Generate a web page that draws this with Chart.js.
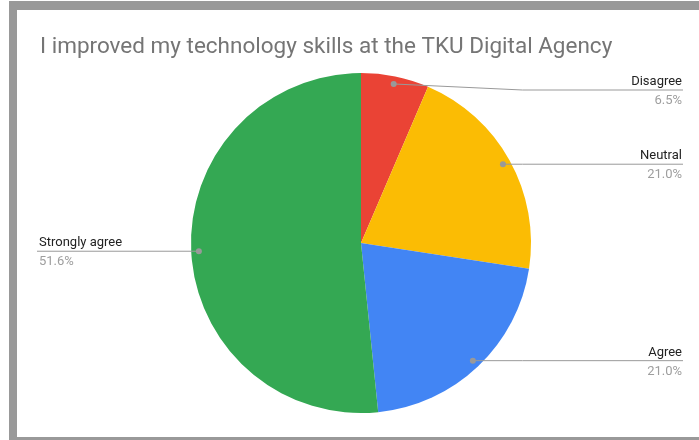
<!DOCTYPE html>
<html>
<head>
<meta charset="utf-8">
<style>
  html, body { margin: 0; padding: 0; background: #fff; }
  #frame {
    position: absolute; left: 9px; top: 1px; width: 690px; height: 427px;
    border-top: 9px solid #999; border-left: 8px solid #999; border-bottom: 3px solid #999;
    box-sizing: content-box;
  }
  #wrap { position: absolute; left: 0; top: 0; width: 699px; height: 440px; }
</style>
</head>
<body>
<div id="frame"></div>
<div id="wrap"><canvas id="myChart" width="699" height="440"></canvas></div>
<script src="https://cdn.jsdelivr.net/npm/chart.js@4.4.0/dist/chart.umd.min.js"></script>
<script>
  var title = 'I improved my technology skills at the TKU Digital Agency';
  var categories = ['Disagree', 'Neutral', 'Agree', 'Strongly agree'];
  var responses = [4, 13, 13, 32];
  var colors = ['#EA4335', '#FBBC04', '#4285F4', '#34A853'];

  // leader lines with name + percentage, Sheets style
  var calloutPlugin = {
    id: 'callouts',
    afterDatasetsDraw: function(chart) {
      var ctx = chart.ctx;
      var area = chart.chartArea;
      var meta = chart.getDatasetMeta(0);
      var total = responses.reduce(function(a, b) { return a + b; }, 0);

      ctx.save();
      ctx.fillStyle = '#757575';
      ctx.font = '22.5px Roboto';
      ctx.textAlign = 'left';
      ctx.textBaseline = 'alphabetic';
      ctx.fillText(title, 40, 53);

      meta.data.forEach(function(arc, i) {
        var p = arc.getProps(['x', 'y', 'startAngle', 'endAngle', 'outerRadius'], true);
        var mid = (p.startAngle + p.endAngle) / 2;
        var r = p.outerRadius * 0.955;
        var dx = p.x + Math.cos(mid) * r;
        var dy = p.y + Math.sin(mid) * r;
        var right = Math.cos(mid) >= 0;
        var ly = Math.max(dy, area.top + 17);
        var endX = right ? 683 : 37;
        var elbowX = right ? Math.max(dx, p.x + p.outerRadius * 0.95) : dx;

        ctx.strokeStyle = '#999';
        ctx.lineWidth = 1;
        ctx.beginPath();
        ctx.moveTo(dx, dy);
        ctx.lineTo(elbowX, ly);
        ctx.lineTo(endX, ly);
        ctx.stroke();

        ctx.fillStyle = '#999';
        ctx.beginPath();
        ctx.arc(dx, dy, 3, 0, Math.PI * 2);
        ctx.fill();

        var pct = (responses[i] / total * 100).toFixed(1) + '%';
        var tx = right ? 682 : 39;
        ctx.textAlign = right ? 'right' : 'left';
        ctx.font = '13px Roboto';
        ctx.fillStyle = '#222';
        ctx.fillText(categories[i], tx, ly - 5);
        ctx.fillStyle = '#9e9e9e';
        ctx.fillText(pct, tx, ly + 14);
      });
      ctx.restore();
    }
  };

  var ctx = document.getElementById('myChart').getContext('2d');
  new Chart(ctx, {
    type: 'pie',
    data: {
      labels: categories,
      datasets: [{
        data: responses,
        backgroundColor: colors,
        borderWidth: 0
      }]
    },
    options: {
      responsive: false,
      animation: false,
      layout: { padding: { top: 73, bottom: 27, left: 191, right: 168 } },
      plugins: {
        legend: { display: false },
        tooltip: { enabled: false }
      }
    },
    plugins: [calloutPlugin]
  });
</script>
</body>
</html>
